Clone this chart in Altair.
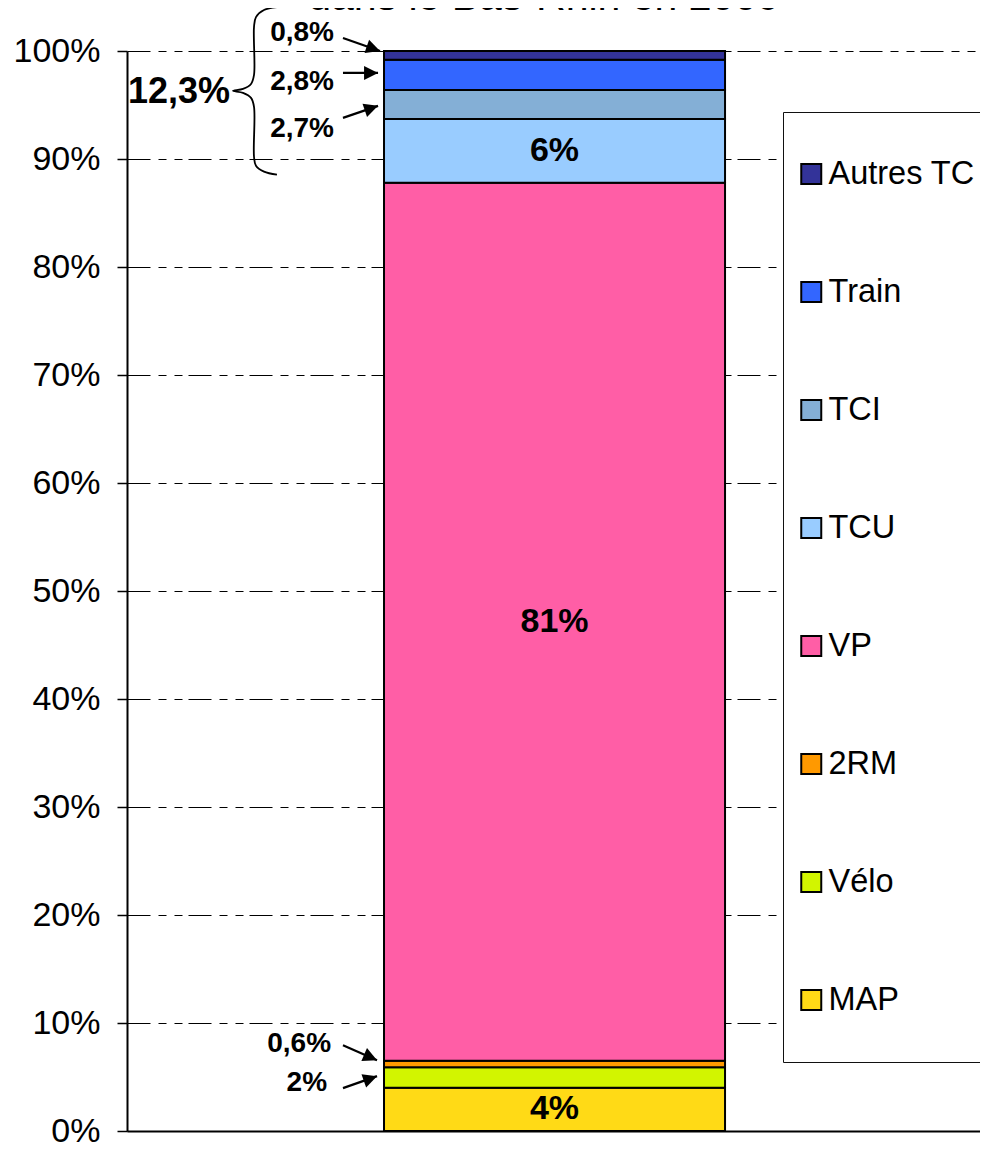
import math
import altair as alt
import pandas as pd

# ---------------- data ----------------
modes = ["MAP", "Vélo", "2RM", "VP", "TCU", "TCI", "Train", "Autres TC"]
shares = [4.0, 1.9, 0.6, 81.3, 5.9, 2.7, 2.8, 0.8]
seg_labels = ["4%", "", "", "81%", "6%", "", "", ""]
mode_colors = ["#FFDA16", "#D2F500", "#FF9900", "#FF5EA6", "#99CCFF", "#84AFD6", "#3366FF", "#333399"]
legend_order = ["Autres TC", "Train", "TCI", "TCU", "VP", "2RM", "Vélo", "MAP"]
y_ticks = [0, 10, 20, 30, 40, 50, 60, 70, 80, 90, 100]

bar_left, bar_right = 0.3013, 0.7011

ann_labels = ["0,8%", "2,8%", "2,7%", "0,6%", "2%"]
ann_x = [0.2427, 0.2427, 0.2427, 0.2392, 0.2345]
ann_y = [101.66, 97.09, 92.80, 8.03, 4.43]

arrow_x0 = [0.2532, 0.2532, 0.2532, 0.2532, 0.2532]
arrow_y0 = [101.2, 97.97, 93.81, 7.94, 3.97]
arrow_x1 = [0.2966, 0.2943, 0.2943, 0.2931, 0.2931]
arrow_y1 = [100.0, 97.97, 94.92, 6.56, 5.08]

group_label = ["12,3%"]
group_x = [0.1208]
group_y = [96.17]

brace_x = [0.1758, 0.1606, 0.1512, 0.1489, 0.1489, 0.1454, 0.1360, 0.1243,
           0.1360, 0.1454, 0.1489, 0.1489, 0.1512, 0.1606, 0.1758]
brace_y = [104.06, 103.79, 103.14, 102.22, 97.78, 96.95, 96.49, 96.31,
           96.12, 95.66, 94.83, 90.21, 89.38, 88.83, 88.55]

title_text = ["dans le Bas-Rhin en 2009"]
title_x = [0.4889]
title_y = [103.8]

# ---------------- layout constants ----------------
PLOT_W, PLOT_H = 853, 1080
FONT = "Liberation Sans"

xs = alt.Scale(domain=[0, 1], nice=False, zero=False)
ys = alt.Scale(domain=[0, 100], nice=False, zero=True)

xax = alt.Axis(labels=False, ticks=False, grid=False, domainColor="black",
               domainWidth=2, title=None)
yax = alt.Axis(values=y_ticks, labelExpr="datum.value + '%'", title=None,
               tickSize=10, tickColor="black", tickWidth=1.5,
               domainColor="black", domainWidth=2,
               labelFont=FONT, labelFontSize=34, labelColor="black", labelPadding=17,
               grid=True, gridColor="black", gridWidth=1.2, gridOpacity=1,
               gridDash=[23, 8, 8, 8, 8, 6])
X_ = lambda f: alt.X(f, type="quantitative", scale=xs, axis=xax)
Y_ = lambda f: alt.Y(f, type="quantitative", scale=ys, axis=yax)

color_map = dict(zip(modes, mode_colors))

df = pd.DataFrame({"mode": modes, "share": shares,
                   "rank": list(range(len(modes))), "label": seg_labels})

stacked = (alt.Chart(df)
           .transform_stack(stack="share", groupby=[],
                            sort=[alt.SortField("rank", order="ascending")],
                            as_=["y0", "y1"])
           .transform_calculate(xl=str(bar_left), xr=str(bar_right),
                                xm=str((bar_left + bar_right) / 2),
                                ym="(datum.y0 + datum.y1) / 2"))

bars = stacked.mark_bar(stroke="black", strokeWidth=2).encode(
    x=X_("xl"), x2="xr:Q", y=Y_("y0"), y2="y1:Q",
    color=alt.Color("mode:N",
                    scale=alt.Scale(domain=legend_order,
                                    range=[color_map[m] for m in legend_order]),
                    legend=alt.Legend(
                        title=None, orient="none", legendX=656, legendY=61,
                        symbolType="square", symbolSize=400,
                        symbolStrokeColor="black", symbolStrokeWidth=2,
                        labelFont=FONT, labelFontSize=32.5, labelColor="black",
                        labelOffset=1, labelLimit=400,
                        padding=12, rowPadding=18, clipHeight=100,
                        strokeColor="#111111", fillColor="white")),
)

seg_text = (stacked.transform_filter("datum.label != ''")
            .mark_text(font=FONT, fontSize=34, fontWeight="bold", color="black",
                       baseline="middle", align="center")
            .encode(x=X_("xm"), y=Y_("ym"), text="label:N"))

# brace
brace_df = pd.DataFrame({"x": brace_x, "y": brace_y, "i": list(range(len(brace_x)))})
brace = alt.Chart(brace_df).mark_line(color="black", strokeWidth=1.8,
                                      interpolate="catmull-rom").encode(
    x=X_("x"), y=Y_("y"), order="i:Q")

# arrows
PX_X, PX_Y = PLOT_W / 1.0, PLOT_H / 100.0
angles = [math.degrees(math.atan2(-(b1 - b0) * PX_Y, (a1 - a0) * PX_X)) % 360
          for a0, b0, a1, b1 in zip(arrow_x0, arrow_y0, arrow_x1, arrow_y1)]
arrow_df = pd.DataFrame({"x0": arrow_x0, "y0": arrow_y0, "x1": arrow_x1,
                         "y1": arrow_y1, "ang": angles})
arrow_lines = alt.Chart(arrow_df).mark_rule(color="black", strokeWidth=2.2).encode(
    x=X_("x0"), y=Y_("y0"), x2="x1:Q", y2="y1:Q")
arrow_heads = alt.Chart(arrow_df).mark_point(
    shape="M0,0L-1,-0.5L-1,0.5Z", filled=True, color="black", opacity=1,
    size=784, strokeWidth=0).encode(
    x=X_("x1"), y=Y_("y1"), angle=alt.Angle("ang:Q", scale=None))

ann_df = pd.DataFrame({"t": ann_labels, "x": ann_x, "y": ann_y})
ann_text = alt.Chart(ann_df).mark_text(font=FONT, fontSize=28, fontWeight="bold",
                                       color="black", align="right",
                                       baseline="middle").encode(
    x=X_("x"), y=Y_("y"), text="t:N")

grp_df = pd.DataFrame({"t": group_label, "x": group_x, "y": group_y})
grp_text = alt.Chart(grp_df).mark_text(font=FONT, fontSize=36, fontWeight="bold",
                                       color="black", align="right",
                                       baseline="middle").encode(
    x=X_("x"), y=Y_("y"), text="t:N")

ttl_df = pd.DataFrame({"t": title_text, "x": title_x, "y": title_y})
ttl_text = alt.Chart(ttl_df).mark_text(font=FONT, fontSize=41, color="black",
                                       align="center", baseline="alphabetic").encode(
    x=X_("x"), y=Y_("y"), text="t:N")

chart = (alt.layer(bars, seg_text, brace, arrow_lines, arrow_heads, ann_text,
                   grp_text, ttl_text)
         .properties(width=PLOT_W, height=PLOT_H,
                     autosize=alt.AutoSizeParams(type="none"),
                     padding={"left": 119, "top": 43, "right": 0, "bottom": 13},
                     background="white")
         .configure_view(strokeWidth=0))

chart.save("out.html", embed_options={"renderer": "svg", "actions": False})
